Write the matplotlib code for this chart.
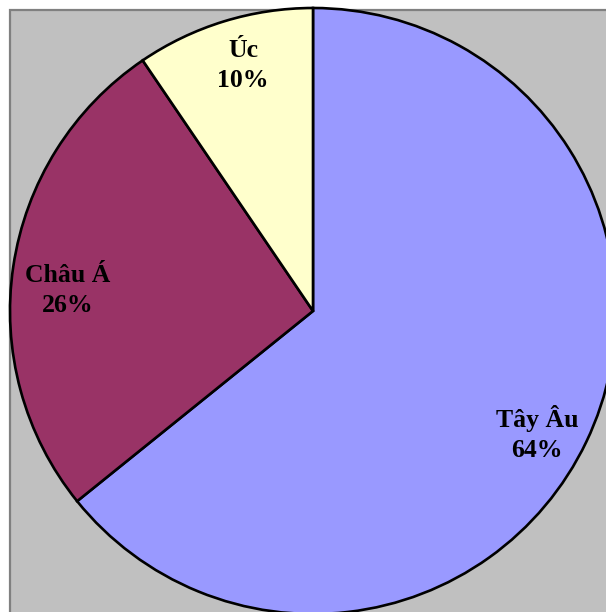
import matplotlib
matplotlib.use('Agg')
import matplotlib.pyplot as plt
from matplotlib.patches import Rectangle

regions = ['Tây Âu', 'Châu Á', 'Úc']
shares = [64.2, 26.3, 9.5]          # slice sizes
pct_text = ['64%', '26%', '10%']    # rounded values printed on the chart
colors = ['#9999FF', '#993366', '#FFFFCC']
# label centres in pie units (radius = 1)
label_xy = [(0.739, -0.403), (-0.809, 0.068), (-0.231, 0.809)]

plt.rcParams['font.family'] = ['Liberation Serif', 'DejaVu Serif']

fig = plt.figure(figsize=(6.06, 6.12), dpi=100)
fig.patch.set_facecolor('white')

# grey chart area with a darker frame, running off the right/bottom edge
W, H = 606.0, 612.0
fig.patches.append(Rectangle((10 / W, -0.1), 1.2, (H - 10) / H + 0.1,
                             transform=fig.transFigure, facecolor='#C0C0C0',
                             edgecolor='#808080', linewidth=1.6, zorder=-5))

# square axes: centre (313,311) px, radius 303 px
R = 303.0
ax = fig.add_axes([(313 - R) / W, (H - 311 - R) / H, 2 * R / W, 2 * R / H])
ax.set_zorder(1)
ax.patch.set_visible(False)

labels = [f'{r}\n{p}' for r, p in zip(regions, pct_text)]
wedges, texts = ax.pie(shares, labels=labels, colors=colors, startangle=90,
                       counterclock=False, radius=1.0, frame=False,
                       wedgeprops=dict(edgecolor='black', linewidth=1.9),
                       textprops=dict(fontsize=18.5, fontweight='bold', ha='center',
                                      va='center', multialignment='center',
                                      color='black', linespacing=1.4))
for t, xy in zip(texts, label_xy):
    t.set_position(xy)
ax.set_xlim(-1, 1)
ax.set_ylim(-1, 1)
ax.axis('off')

plt.savefig('out.png', dpi=100)
